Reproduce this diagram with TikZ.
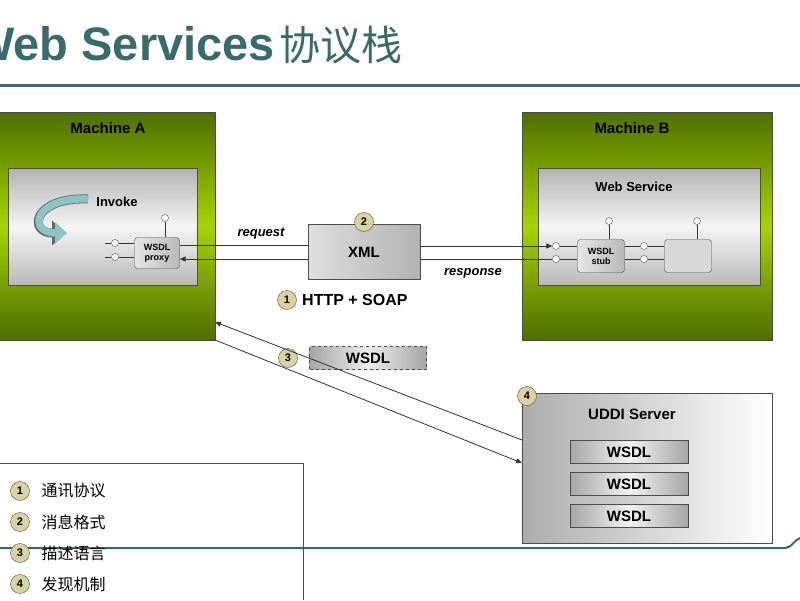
\documentclass[tikz,border=0pt]{standalone}
\usepackage{fontspec}
\setmainfont{Liberation Sans}
\newfontfamily\cjk{Noto Sans CJK SC}
\usetikzlibrary{arrows.meta,positioning,shapes}
\definecolor{teal1}{HTML}{3A6B6B}
\definecolor{badge}{HTML}{D9D3A3}
\definecolor{grn1}{HTML}{A4D400}
\definecolor{grn2}{HTML}{4F6E00}
\definecolor{swirl}{HTML}{8CC3C3}
\tikzset{
  machine/.style={draw=black!70, shading angle=45, top color=grn2, bottom color=grn2, middle color=grn1},
  panel/.style={draw=black!70, shading angle=-60, top color=gray!60, bottom color=gray!55, middle color=gray!8},
  part/.style={draw=black!70, rounded corners=3pt, left color=gray!20, right color=gray!55, font=\bfseries\fontsize{9}{10}\selectfont, align=center},
  badge/.style={circle, draw=black!70, fill=badge, inner sep=0pt, minimum size=19pt, font=\bfseries\fontsize{11}{11}\selectfont},
  pin/.style={circle, draw=black!70, fill=white, inner sep=0pt, minimum size=7pt},
  wsdl/.style={draw=black!70, left color=gray!70, right color=gray!70, middle color=gray!10, minimum width=118pt, minimum height=23pt, font=\bfseries\fontsize{15}{15}\selectfont},
  lbl/.style={font=\bfseries\fontsize{15}{15}\selectfont},
  wire/.style={black!80, line width=0.8pt},
  tip/.style={-{Triangle[length=6pt,width=5pt]}}
}
\begin{document}
\begin{tikzpicture}[x=1pt,y=-1pt]
  \useasboundingbox (0,0) rectangle (800,600);
  \clip (0,0) rectangle (800,600);

  % title
  \node[anchor=base west, text=teal1, inner sep=0pt] (title) at (-30,60)
    {\bfseries\fontsize{47}{47}\selectfont Web Services\hspace{4pt}{\cjk\mdseries\fontsize{41}{41}\selectfont 协议栈}};
  \draw[teal1, line width=3pt] (0,85) -- (800,85);
  \draw[teal1, line width=2pt] (0,548) -- (785,548) to[out=0,in=200] (800,538);

  % machine A
  \fill[machine] (-5,112) rectangle (215,340);
  \node[lbl] (machA) at (108,128) {Machine A};
  \fill[panel] (8,168) rectangle (197,285);
  \draw[line width=9pt, black!60, -{Triangle[length=14pt,width=24pt]}]
    (88,199) .. controls (32,197) and (28,233) .. (66,233);
  \draw[line width=7.4pt, swirl, -{Triangle[length=12pt,width=21pt]}]
    (88,199) .. controls (32,197) and (28,233) .. (67,233);
  \node[lbl, font=\bfseries\fontsize{13}{13}\selectfont] (invoke) at (117,202) {Invoke};
  \node[part, minimum width=45pt, minimum height=31pt] (proxy) at (157,253) {WSDL\\proxy};
  \node[pin] (pa1) at (115,243) {};
  \node[pin] (pa2) at (115,257) {};
  \node[pin] (pa3) at (165,218) {};
  \draw[wire] (pa1) -- (proxy.west |- pa1);
  \draw[wire] (pa2) -- (proxy.west |- pa2);
  \draw[wire] (pa1.west) -- ++(-6,0);
  \draw[wire] (pa2.west) -- ++(-6,0);
  \draw[wire] (pa3) -- (pa3 |- proxy.north);

  % machine B
  \fill[machine] (522,112) rectangle (772,340);
  \node[lbl] (machB) at (632,128) {Machine B};
  \fill[panel] (538,168) rectangle (760,285);
  \node[lbl, font=\bfseries\fontsize{13}{13}\selectfont] (ws) at (634,187) {Web Service};
  \node[part, minimum width=47pt, minimum height=33pt] (stub) at (601,256) {WSDL\\stub};
  \node[draw=black!70, rounded corners=3pt, fill=gray!30, minimum width=47pt, minimum height=33pt] (impl) at (688,256) {};
  \node[pin] (pb1) at (556,246) {};
  \node[pin] (pb2) at (556,259) {};
  \node[pin] (pb3) at (644,246) {};
  \node[pin] (pb4) at (644,259) {};
  \node[pin] (pb5) at (609,221) {};
  \node[pin] (pb6) at (697,221) {};
  \draw[wire] (pb1) -- (stub.west |- pb1);
  \draw[wire] (pb2) -- (stub.west |- pb2);
  \draw[wire] (stub.east |- pb3) -- (pb3) -- (impl.west |- pb3);
  \draw[wire] (stub.east |- pb4) -- (pb4) -- (impl.west |- pb4);
  \draw[wire] (pb5) -- (pb5 |- stub.north);
  \draw[wire] (pb6) -- (pb6 |- impl.north);

  % message
  \node[draw=black!70, left color=gray!25, right color=gray!60, minimum width=112pt, minimum height=55pt, font=\bfseries\fontsize{15}{15}\selectfont] (xml) at (364,252) {XML};
  \node[badge] (b2) at (364,222) {2};
  \draw[wire] (proxy.east |- 0,245) -- (xml.west |- 0,245);
  \draw[wire, tip] (xml.west |- 0,259) -- (proxy.east |- 0,259);
  \draw[wire, tip] (xml.east |- 0,246) -- (pb1);
  \draw[wire] (xml.east |- 0,259) -- (pb2);
  \node[font=\bfseries\itshape\fontsize{13}{13}\selectfont] (req) at (261,234) {request};
  \node[font=\bfseries\itshape\fontsize{13}{13}\selectfont] (resp) at (473,273) {response};
  \node[badge] (b1) at (287,300) {1};
  \node[lbl, right=2pt of b1, font=\bfseries\fontsize{16}{16}\selectfont] (http) {HTTP + SOAP};

  % discovery
  \node[draw=black!70, dashed, left color=gray!70, right color=gray!70, middle color=gray!15, minimum width=117pt, minimum height=23pt, font=\bfseries\fontsize{15}{15}\selectfont] (wsdlmsg) at (368,358) {WSDL};
  \node[badge] (b3) at (288,358) {3};
  \fill[draw=black!70, left color=gray!65, right color=white] (522,393) rectangle (772,543);
  \coordinate (uddiA) at (522,440);
  \coordinate (uddiB) at (522,463);
  \coordinate (machAa) at (215,322);
  \coordinate (machAb) at (215,340);
  \draw[wire, tip] (uddiA) -- (machAa);
  \draw[wire, tip] (machAb) -- (uddiB);
  \node[badge] (b4) at (527,396) {4};
  \node[lbl] (uddi) at (632,414) {UDDI Server};
  \node[wsdl] (w1) at (629,452) {WSDL};
  \node[wsdl] (w2) at (629,484) {WSDL};
  \node[wsdl] (w3) at (629,516) {WSDL};

  % legend
  \draw[black!70, line width=0.6pt] (-5,463) -- (303,463) -- (303,600);
  \foreach \n/\y/\t in {1/491/通讯协议, 2/522/消息格式, 3/553/描述语言, 4/584/发现机制} {
    \node[badge] (k\n) at (20,\y) {\n};
    \node[anchor=west, font=\cjk\fontsize{16}{16}\selectfont] (t\n) at (38,\y) {\t};
  }
\end{tikzpicture}
\end{document}
